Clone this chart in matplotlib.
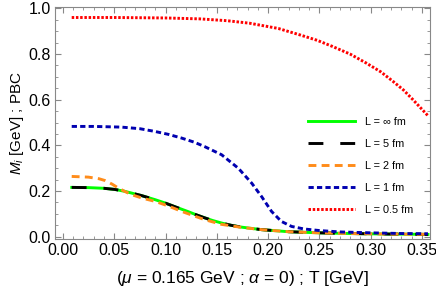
import matplotlib.pyplot as plt
import numpy as np
from matplotlib.ticker import MultipleLocator

plt.rcParams['font.family'] = ['Liberation Sans', 'DejaVu Sans']
plt.rcParams['mathtext.fontset'] = 'custom'
plt.rcParams['mathtext.it'] = 'Liberation Sans:italic'
plt.rcParams['mathtext.rm'] = 'Liberation Sans'

# masses (GeV) vs temperature (GeV)
T_a = [0.0085, 0.025, 0.04, 0.0507, 0.06, 0.0767, 0.09, 0.0994, 0.11, 0.122, 0.13,
       0.138, 0.146, 0.1547, 0.164, 0.174, 0.1937, 0.2196, 0.25, 0.28, 0.31, 0.34, 0.356]
m_inf = [0.216, 0.215, 0.212, 0.207, 0.199, 0.180, 0.162, 0.148, 0.130, 0.110, 0.096,
         0.083, 0.071, 0.060, 0.050, 0.042, 0.031, 0.022, 0.017, 0.014, 0.012, 0.011, 0.010]
m_5 = m_inf

T_b = [0.0085, 0.0247, 0.035, 0.041, 0.048, 0.054, 0.06, 0.067, 0.078, 0.0897, 0.103,
       0.1157, 0.128, 0.138, 0.1547, 0.174, 0.1937, 0.2196, 0.25, 0.28, 0.31, 0.34, 0.356]
m_2 = [0.264, 0.261, 0.254, 0.246, 0.230, 0.213, 0.199, 0.184, 0.168, 0.155, 0.134,
       0.111, 0.091, 0.075, 0.054, 0.041, 0.031, 0.022, 0.017, 0.014, 0.012, 0.011, 0.010]

T_c = [0.0085, 0.03, 0.057, 0.075, 0.0897, 0.103, 0.1157, 0.128, 0.138, 0.1547, 0.171,
       0.184, 0.1937, 0.2034, 0.213, 0.223, 0.235, 0.25, 0.27, 0.30, 0.33, 0.356]
m_1 = [0.483, 0.483, 0.480, 0.473, 0.461, 0.448, 0.432, 0.414, 0.395, 0.359, 0.300,
       0.235, 0.176, 0.111, 0.067, 0.045, 0.034, 0.027, 0.021, 0.017, 0.014, 0.013]

T_d = [0.0085, 0.05, 0.1, 0.1335, 0.16, 0.182, 0.21, 0.231, 0.248, 0.263, 0.28,
       0.296, 0.31, 0.322, 0.332, 0.3414, 0.356]
m_05 = [0.960, 0.960, 0.958, 0.954, 0.946, 0.935, 0.912, 0.884, 0.860, 0.833, 0.800,
        0.760, 0.722, 0.680, 0.643, 0.600, 0.530]

labels = ["L = ∞ fm", "L = 5 fm", "L = 2 fm", "L = 1 fm", "L = 0.5 fm"]

fig = plt.figure(figsize=(4.36, 2.92), dpi=100)
ax = fig.add_axes([55 / 436, 1 - 239 / 292, 375 / 436, 232 / 292])

lw = 2.1
ax.plot(T_a, m_inf, color="#00ff00", lw=lw, label=labels[0])
ax.plot(T_a, m_5, color="black", lw=lw, dashes=(5.1, 5.8), label=labels[1])
ax.plot(T_b, m_2, color="#ff8c1a", lw=lw, dashes=(2.7, 1.8), label=labels[2])
ax.plot(T_c, m_1, color="#0000b0", lw=lw, dashes=(1.8, 1.1), label=labels[3])
ax.plot(T_d, m_05, color="#ff0000", lw=lw, dashes=(0.85, 0.6), label=labels[4])

ax.set_xlim(-0.0078, 0.358)
ax.set_ylim(-0.01, 1.006)
ax.xaxis.set_major_locator(MultipleLocator(0.05))
ax.xaxis.set_minor_locator(MultipleLocator(0.01))
ax.yaxis.set_major_locator(MultipleLocator(0.2))
ax.yaxis.set_minor_locator(MultipleLocator(0.05))
ax.xaxis.set_major_formatter(plt.FuncFormatter(lambda v, p: f"{v:.2f}"))
ax.yaxis.set_major_formatter(plt.FuncFormatter(lambda v, p: f"{v:.1f}"))
ax.tick_params(which="both", direction="in", top=True, right=True, color="#888888",
               labelsize=11.5, pad=3)
ax.tick_params(which="major", length=4.5)
ax.tick_params(which="minor", length=2.5)
for s in ax.spines.values():
    s.set_color("#888888")

ax.set_xlabel(r"($\mathit{\mu}$ = 0.165 GeV ; $\mathit{\alpha}$ = 0) ; T [GeV]", fontsize=12.5,
              labelpad=8)
ax.set_ylabel(r"$M_i$ [GeV] ; PBC", fontsize=11, labelpad=2)

ax.legend(loc="lower left", bbox_to_anchor=(0.675, 0.105), frameon=False, fontsize=7.8,
          handlelength=4.3, labelspacing=1.1, handletextpad=0.95,
          borderpad=0, borderaxespad=0)

fig.savefig("out.png", dpi=100)
